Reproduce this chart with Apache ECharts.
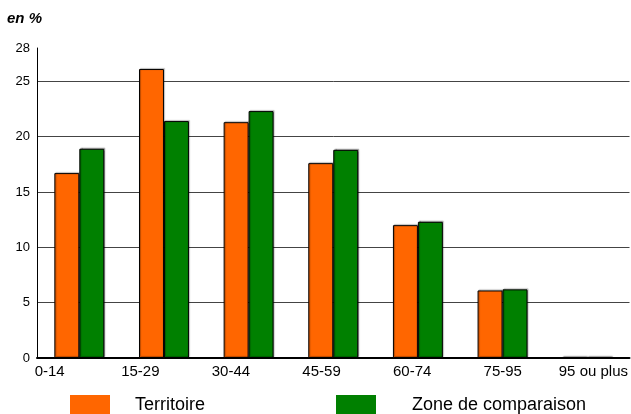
<!DOCTYPE html>
<html>
<head>
<meta charset="utf-8">
<script src="https://cdn.jsdelivr.net/npm/echarts@6/dist/echarts.min.js"></script>
<style>
html,body{margin:0;padding:0;background:#fff;}
#chart{width:631px;height:414px;}
</style>
</head>
<body>
<div id="chart"></div>
<script>
var categories = ['0-14', '15-29', '30-44', '45-59', '60-74', '75-95', '95 ou plus'];
var territoire = [16.7, 26.1, 21.3, 17.6, 12.0, 6.1, 0.1];
var zoneComparaison = [18.9, 21.4, 22.3, 18.8, 12.3, 6.2, 0.1];
var seriesNames = ['Territoire', 'Zone de comparaison'];
var yTitle = 'en %';

var FONT = 'Liberation Sans, Arial, sans-serif';
var chart = echarts.init(document.getElementById('chart'), null, {renderer: 'canvas'});

var barStyle = function (c) {
  return {
    color: c,
    borderColor: '#000',
    borderWidth: 1,
    shadowColor: 'rgba(0,0,0,0.3)',
    shadowBlur: 1,
    shadowOffsetX: 1,
    shadowOffsetY: -1
  };
};

chart.setOption({
  animation: false,
  backgroundColor: '#fff',
  title: {
    text: yTitle,
    left: 2,
    top: 6,
    textStyle: {fontFamily: FONT, fontSize: 15, fontWeight: 'bold', fontStyle: 'italic', color: '#000'}
  },
  legend: [{
    data: [seriesNames[0]],
    left: 65, top: 390,
    itemWidth: 40, itemHeight: 20,
    icon: 'rect',
    textStyle: {fontFamily: FONT, fontSize: 18, color: '#000', padding: [0, 0, 0, 20]},
    itemStyle: {borderWidth: 0, shadowBlur: 0, shadowOffsetX: 0, shadowOffsetY: 0}
  }, {
    data: [seriesNames[1]],
    left: 331, top: 390,
    itemWidth: 40, itemHeight: 20,
    icon: 'rect',
    textStyle: {fontFamily: FONT, fontSize: 18, color: '#000', padding: [0, 0, 0, 31]},
    itemStyle: {borderWidth: 0, shadowBlur: 0, shadowOffsetX: 0, shadowOffsetY: 0}
  }],
  grid: [
    {left: 37, right: 1.5, top: 48, bottom: 56, containLabel: false},
    {left: 49.7, right: 37.5, top: 48, bottom: 56, containLabel: false}
  ],
  xAxis: [{
    type: 'category',
    gridIndex: 0,
    data: categories,
    axisLine: {show: true, lineStyle: {color: '#000', width: 2}},
    axisTick: {show: false},
    axisLabel: {show: false},
    splitLine: {show: false}
  }, {
    type: 'category',
    gridIndex: 1,
    data: categories,
    boundaryGap: false,
    axisLine: {show: false},
    axisTick: {show: false},
    axisLabel: {show: true, interval: 0, margin: 6, fontFamily: FONT, fontSize: 15, color: '#000'},
    splitLine: {show: false}
  }],
  yAxis: [{
    type: 'value',
    gridIndex: 0,
    min: 0, max: 28, interval: 5,
    axisLine: {show: true, lineStyle: {color: '#000', width: 1}},
    axisTick: {show: false},
    axisLabel: {margin: 7, fontFamily: FONT, fontSize: 13, color: '#000', showMaxLabel: true},
    splitLine: {show: true, showMinLine: false, showMaxLine: false, lineStyle: {color: '#444', width: 1}}
  }, {
    type: 'value',
    gridIndex: 1,
    min: 0, max: 28,
    show: false
  }],
  series: [{
    name: seriesNames[0],
    type: 'bar',
    xAxisIndex: 0, yAxisIndex: 0,
    data: territoire,
    barGap: '0%',
    barCategoryGap: '41%',
    itemStyle: barStyle('#ff6600')
  }, {
    name: seriesNames[1],
    type: 'bar',
    xAxisIndex: 0, yAxisIndex: 0,
    data: zoneComparaison,
    barGap: '0%',
    barCategoryGap: '41%',
    itemStyle: barStyle('#008000')
  }]
});
</script>
</body>
</html>
